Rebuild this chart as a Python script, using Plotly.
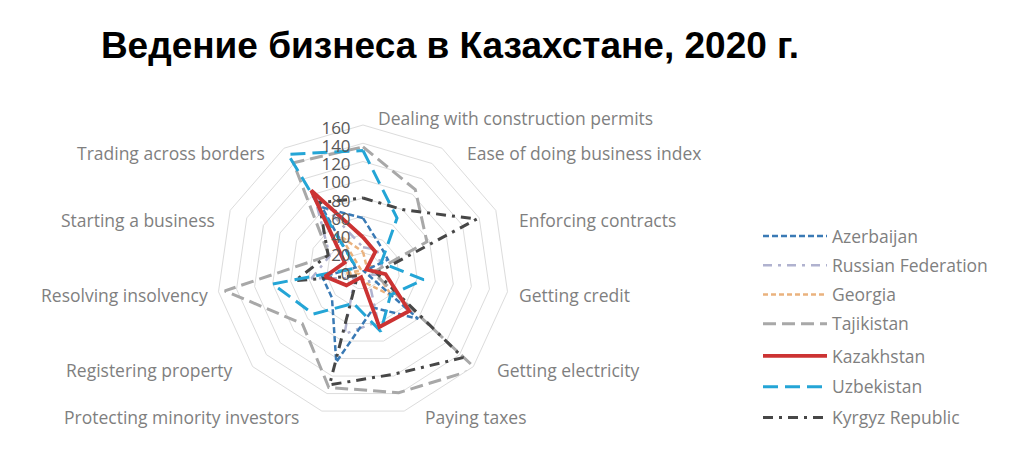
import plotly.graph_objects as go

# Doing Business 2020 ranks
categories = ["Dealing with construction permits", "Ease of doing business index",
              "Enforcing contracts", "Getting credit", "Getting electricity",
              "Paying taxes", "Protecting minority investors", "Registering property",
              "Resolving insolvency", "Starting a business", "Trading across borders"]

azerbaijan = [58, 34, 30, 1, 80, 42, 104, 45, 45, 9, 83]
russia = [26, 28, 21, 25, 7, 58, 72, 12, 57, 40, 99]
georgia = [21, 7, 12, 15, 42, 14, 7, 5, 20, 2, 45]
tajikistan = [136, 106, 77, 11, 164, 139, 133, 88, 153, 41, 141]
kazakhstan = [37, 25, 4, 25, 67, 64, 7, 24, 42, 22, 105]
uzbekistan = [132, 69, 22, 67, 40, 69, 37, 72, 100, 8, 152]
kyrgyz = [80, 80, 137, 15, 145, 118, 130, 8, 75, 42, 89]

radial_ticks = [0, 20, 40, 60, 80, 100, 120, 140, 160]

W, H = 1024, 476
OFF = 8  # page body margin shifts everything by 8px
cx, cy, R = 363 - OFF, 271 - OFF, 146


def px(x):
    return (x - OFF) / W


def py(y):
    return 1 - (y - OFF) / H


# name, values, colour, dash, width, legend rank, which legend
series = [
    ("Georgia", georgia, "#eab27e", "5px,3px", 2.5, 3, "legend"),
    ("Russian Federation", russia, "#b0b2cf", "9px,6px,3px,6px", 2.5, 2, "legend"),
    ("Azerbaijan", azerbaijan, "#3a7ab5", "6px,3px", 2.5, 1, "legend"),
    ("Tajikistan", tajikistan, "#a8a8a8", "13px,6px", 3, 4, "legend"),
    ("Kyrgyz Republic", kyrgyz, "#474747", "10px,6px,3px,6px", 3, 7, "legend2"),
    ("Uzbekistan", uzbekistan, "#24a5d6", "15px,7px", 3, 6, "legend2"),
    ("Kazakhstan", kazakhstan, "#cc3333", "solid", 3.8, 5, "legend2"),
]

fig = go.Figure()
for name, vals, col, dash, w, rank, lg in series:
    fig.add_trace(go.Scatterpolar(
        r=vals + [vals[0]], theta=categories + [categories[0]],
        mode="lines", name=name, legendrank=rank, legend=lg, legendgroup=name,
        line=dict(color=col, dash=dash, width=w),
    ))

# label positions (px) around the chart
label_pos = [(378, 118, "left"), (467, 153, "left"), (519, 220, "left"),
             (519, 295, "left"), (497, 370, "left"), (425, 417, "left"),
             (299, 417, "right"), (233, 370, "right"), (208, 295, "right"),
             (215, 220, "right"), (265, 153, "right")]
for cat, (lx, ly, anc) in zip(categories, label_pos):
    lx = lx - 2 if anc == "left" else lx + 2
    fig.add_annotation(x=px(lx), y=py(ly), xref="paper", yref="paper",
                       text=cat, showarrow=False, xanchor=anc, yanchor="middle",
                       font=dict(family="Open Sans", size=17.5, color="#7f7f7f"))

leg_font = dict(family="Open Sans", size=17.5, color="#7f7f7f")
fig.update_layout(
    width=W, height=H,
    margin=dict(l=0, r=0, t=0, b=0),
    paper_bgcolor="white", plot_bgcolor="white",
    title=dict(text="Ведение бизнеса в Казахстане, 2020 г.", x=px(450), y=py(45),
               xanchor="center", yanchor="middle",
               font=dict(family="Liberation Sans", size=37, color="black", weight=700)),
    polar=dict(
        domain=dict(x=[(cx - R) / W, (cx + R) / W], y=[1 - (cy + R) / H, 1 - (cy - R) / H]),
        gridshape="linear", bgcolor="white",
        radialaxis=dict(range=[0, 160], tickvals=radial_ticks, angle=90,
                        side="counterclockwise", showline=False, ticks="",
                        gridcolor="#dcdcdc", gridwidth=1,
                        tickfont=dict(family="Open Sans", size=17, color="#595959")),
        angularaxis=dict(direction="clockwise", rotation=90, categoryarray=categories,
                         showticklabels=False, ticks="", showgrid=False,
                         showline=True, linecolor="#dcdcdc", linewidth=1),
    ),
    legend=dict(x=px(758), y=py(218), xanchor="left", yanchor="top",
                tracegroupgap=3.5, itemwidth=64, font=leg_font),
    legend2=dict(x=px(758), y=py(338), xanchor="left", yanchor="top",
                 tracegroupgap=5, itemwidth=64, font=leg_font),
)

fig.write_html("out.html")
